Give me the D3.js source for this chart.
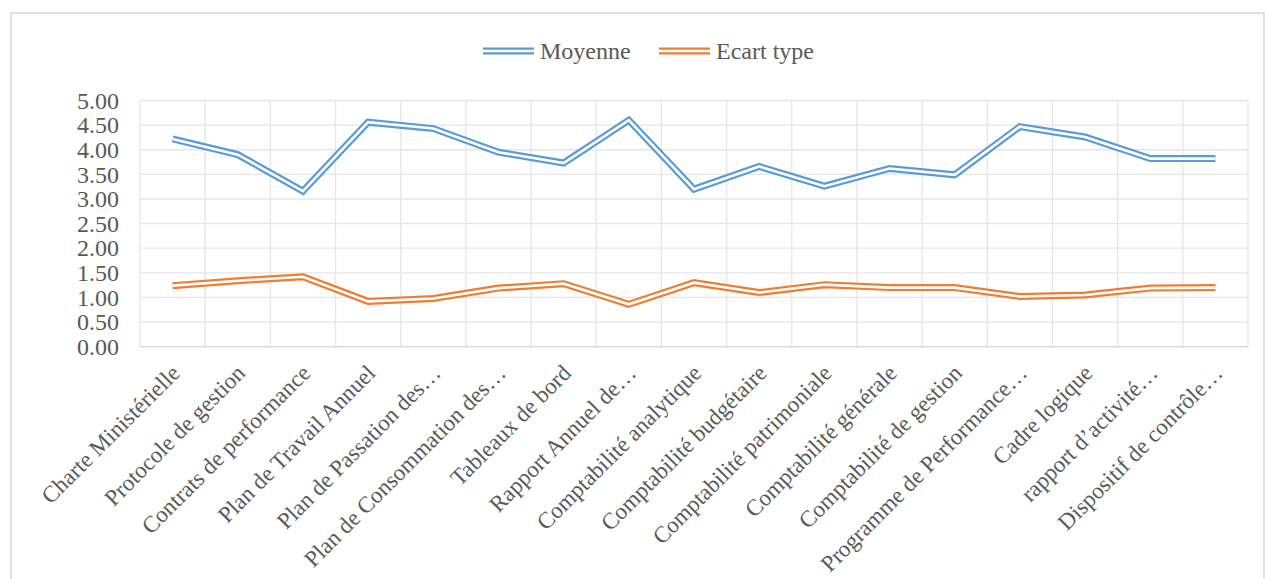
<!DOCTYPE html>
<html>
<head>
<meta charset="utf-8">
<script src="https://cdn.jsdelivr.net/npm/d3@7"></script>
<style>
  html, body { margin: 0; padding: 0; background: #fff; }
  svg { display: block; }
  text { font-family: "Liberation Serif", "Times New Roman", serif; fill: #595959; }
</style>
</head>
<body>
<svg id="chart" width="1265" height="579"></svg>
<script>
const categories = [
  "Charte Ministérielle",
  "Protocole de gestion",
  "Contrats de performance",
  "Plan de Travail Annuel",
  "Plan de Passation des…",
  "Plan de Consommation des…",
  "Tableaux de bord",
  "Rapport Annuel de…",
  "Comptabilité analytique",
  "Comptabilité budgétaire",
  "Comptabilité patrimoniale",
  "Comptabilité générale",
  "Comptabilité de gestion",
  "Programme de Performance…",
  "Cadre logique",
  "rapport d’activité…",
  "Dispositif de contrôle…"
];
const moyenne = [4.22, 3.90, 3.16, 4.56, 4.43, 3.95, 3.73, 4.60, 3.20, 3.66, 3.26, 3.62, 3.49, 4.47, 4.26, 3.82, 3.82];
const ecartType = [1.24, 1.34, 1.42, 0.92, 0.98, 1.19, 1.28, 0.86, 1.30, 1.10, 1.26, 1.20, 1.20, 1.02, 1.05, 1.19, 1.20];
const seriesNames = ["Moyenne", "Ecart type"];
const seriesColors = ["#5b9bd5", "#ed7d31"];
const yTicks = [0, 0.5, 1, 1.5, 2, 2.5, 3, 3.5, 4, 4.5, 5];

const svg = d3.select("#chart");
const plot = { left: 140, right: 1248, top: 100.5, bottom: 346.7 };

// outer chart border (only left and top visible)
svg.append("rect")
  .attr("x", 11).attr("y", 13)
  .attr("width", 1253).attr("height", 620)
  .attr("fill", "none").attr("stroke", "#d9d9d9").attr("stroke-width", 1.5);

const x = d3.scaleBand().domain(categories).range([plot.left, plot.right]).paddingInner(0).paddingOuter(0);
const y = d3.scaleLinear().domain([0, 5]).range([plot.bottom, plot.top]);

const grid = svg.append("g");
grid.selectAll("line.h").data(yTicks).enter().append("line")
  .attr("x1", plot.left).attr("x2", plot.right)
  .attr("y1", d => y(d)).attr("y2", d => y(d))
  .attr("stroke", "#e6e6e6").attr("stroke-width", 1.3);
const bounds = categories.map(c => x(c)).concat([plot.right]);
grid.selectAll("line.v").data(bounds).enter().append("line")
  .attr("x1", d => d).attr("x2", d => d)
  .attr("y1", plot.top).attr("y2", plot.bottom)
  .attr("stroke", "#e6e6e6").attr("stroke-width", 1.3);
grid.append("line")
  .attr("x1", plot.left).attr("x2", plot.right)
  .attr("y1", plot.bottom).attr("y2", plot.bottom)
  .attr("stroke", "#d9d9d9").attr("stroke-width", 1.3);

// y axis labels
const yAxis = d3.axisLeft(y).tickValues(yTicks).tickFormat(d3.format(".2f")).tickSize(0).tickPadding(0);
const yg = svg.append("g").attr("transform", `translate(${plot.left - 21},0)`).call(yAxis);
yg.select(".domain").remove();
yg.selectAll("text").style("font-size", "24px").attr("fill", "#595959")
  .style("font-family", '"Liberation Serif", "Times New Roman", serif');

// x axis labels
const xAxis = d3.axisBottom(x).tickSize(0).tickPadding(0);
const xg = svg.append("g").attr("transform", `translate(0,${plot.bottom})`).call(xAxis);
xg.select(".domain").remove();
xg.selectAll(".tick text")
  .style("font-size", "23px").attr("fill", "#595959")
  .style("font-family", '"Liberation Serif", "Times New Roman", serif')
  .attr("text-anchor", "end")
  .attr("x", 0).attr("y", 0).attr("dy", "0.72em")
  .attr("transform", "translate(-3,16) rotate(-45)");

// lines as double (compound) strokes
const line = d3.line().x((d, i) => x(categories[i]) + x.bandwidth() / 2).y(d => y(d));
const series = [moyenne, ecartType];
series.forEach((vals, si) => {
  svg.append("path").datum(vals)
    .attr("d", line).attr("fill", "none")
    .attr("stroke", seriesColors[si]).attr("stroke-width", 7)
    .attr("stroke-linejoin", "miter");
  svg.append("path").datum(vals)
    .attr("d", line).attr("fill", "none")
    .attr("stroke", "#fff").attr("stroke-width", 2.6)
    .attr("stroke-linejoin", "miter");
});

// legend
const legendItems = [
  { name: seriesNames[0], color: seriesColors[0], x: 483 },
  { name: seriesNames[1], color: seriesColors[1], x: 659 }
];
const lg = svg.append("g");
legendItems.forEach(it => {
  lg.append("line").attr("x1", it.x).attr("x2", it.x + 51).attr("y1", 51).attr("y2", 51)
    .attr("stroke", it.color).attr("stroke-width", 7);
  lg.append("line").attr("x1", it.x).attr("x2", it.x + 51).attr("y1", 51).attr("y2", 51)
    .attr("stroke", "#fff").attr("stroke-width", 2.6);
  lg.append("text").attr("x", it.x + 57).attr("y", 59)
    .style("font-size", "24px").text(it.name);
});
</script>
</body>
</html>
